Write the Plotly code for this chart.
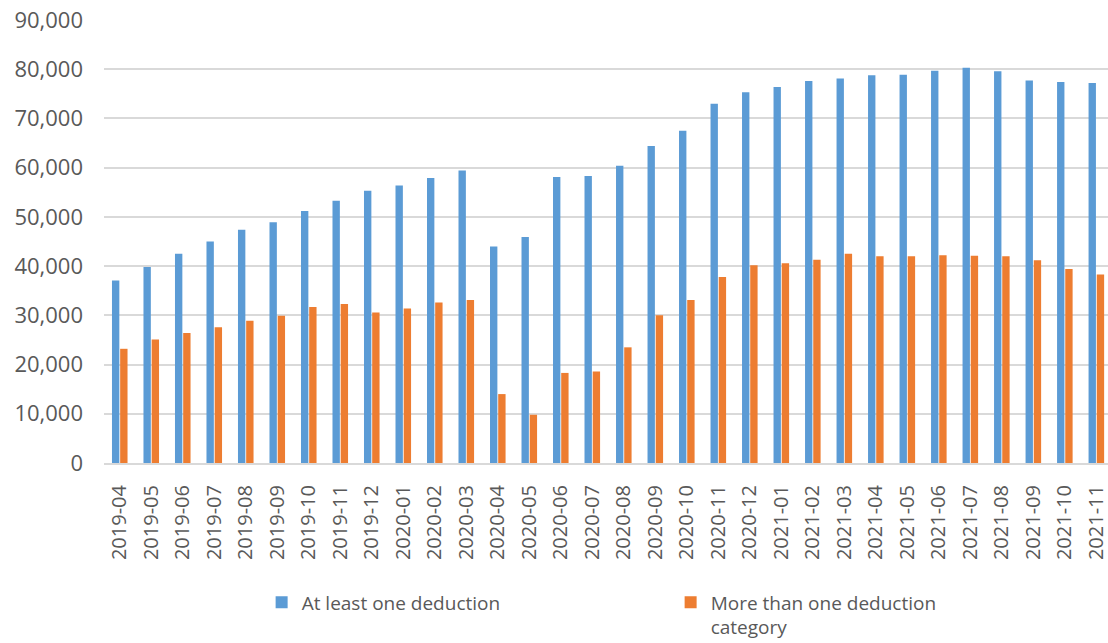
import plotly.graph_objects as go

months = [
    "2019-04", "2019-05", "2019-06", "2019-07", "2019-08", "2019-09", "2019-10", "2019-11", "2019-12",
    "2020-01", "2020-02", "2020-03", "2020-04", "2020-05", "2020-06", "2020-07", "2020-08", "2020-09",
    "2020-10", "2020-11", "2020-12",
    "2021-01", "2021-02", "2021-03", "2021-04", "2021-05", "2021-06", "2021-07", "2021-08", "2021-09",
    "2021-10", "2021-11",
]

at_least_one = [
    37100, 39800, 42500, 45000, 47400, 48900, 51200, 53300, 55300,
    56400, 57900, 59400, 44000, 45900, 58100, 58300, 60400, 64400,
    67500, 73000, 75300,
    76400, 77600, 78100, 78800, 78900, 79700, 80300, 79600, 77700,
    77400, 77200,
]

more_than_one = [
    23200, 25100, 26400, 27600, 28900, 29900, 31700, 32300, 30600,
    31400, 32600, 33100, 14000, 9800, 18300, 18600, 23500, 30000,
    33100, 37800, 40200,
    40600, 41300, 42500, 42000, 42000, 42200, 42100, 42000, 41200,
    39400, 38300,
]

y_ticks = [0, 10000, 20000, 30000, 40000, 50000, 60000, 70000, 80000, 90000]

BLUE = "#5B9BD5"
ORANGE = "#ED7D31"
TEXT = "#595959"
GRID = "#D9D9D9"
FONT = "'Open Sans', sans-serif"

fig = go.Figure()
fig.add_trace(go.Bar(x=months, y=at_least_one, name="At least one deduction",
                     marker=dict(color=BLUE, line=dict(width=0))))
fig.add_trace(go.Bar(x=months, y=more_than_one, name="More than one deduction<br>category",
                     marker=dict(color=ORANGE, line=dict(width=0))))

fig.update_layout(
    width=1108, height=643,
    margin=dict(l=104, r=0, t=20, b=180, autoexpand=False),
    paper_bgcolor="white", plot_bgcolor="white",
    barmode="group", bargap=0.48, bargroupgap=0.1,
    font=dict(family=FONT, color=TEXT, size=19),
    showlegend=True,
    legend=dict(
        orientation="h", x=0.157, xanchor="left", y=-0.272, yanchor="top",
        font=dict(family=FONT, size=19, color=TEXT),
        entrywidth=364, entrywidthmode="pixels",
        itemwidth=30, traceorder="normal", valign="top",
        bgcolor="rgba(0,0,0,0)",
    ),
)

fig.update_xaxes(
    type="category", range=[-0.5, 31.37], automargin=False,
    tickangle=-90, tickfont=dict(family=FONT, size=20, color=TEXT),
    showgrid=False, showline=True, linecolor=GRID, linewidth=2,
    ticks="", ticklabelstandoff=12,
)
fig.update_yaxes(
    range=[0, 90000], tickvals=y_ticks, tickformat=",", automargin=False,
    tickfont=dict(family=FONT, size=22, color=TEXT),
    showgrid=True, gridcolor=GRID, gridwidth=2,
    zeroline=False, showline=False, ticks="", ticklabelstandoff=20,
)

fig.write_html("out.html")
